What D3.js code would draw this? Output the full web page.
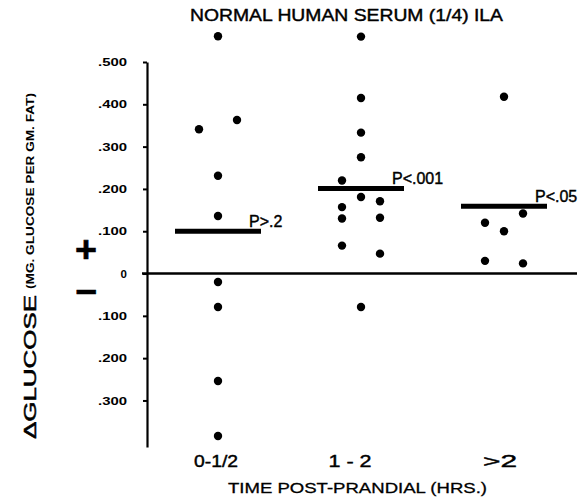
<!DOCTYPE html>
<html>
<head>
<meta charset="utf-8">
<script src="https://cdn.jsdelivr.net/npm/d3@7"></script>
<style>
  body { margin: 0; background: #fff; }
  svg text { font-family: "Liberation Sans", Arial, sans-serif; fill: #000; }
</style>
</head>
<body>
<div id="chart"></div>
<script>
/**
 * DATA
 * */
const groups = ["0-1/2", "1-2", ">2"];

// change in glucose, one list per time group, with the column each dot sits in (-1 left, 0 middle, 1 right)
const earlyValues = [0.561, 0.341, 0.363, 0.231, 0.136, -0.020, -0.079, -0.254, -0.384];
const earlyCols   = [0, -1, 1, 0, 0, 0, 0, 0, 0];
const midValues   = [0.560, 0.415, 0.333, 0.275, 0.220, 0.181, 0.171, 0.157, 0.130, 0.132, 0.066, 0.047, -0.079];
const midCols     = [0, 0, 0, 0, -1, 0, 1, -1, -1, 1, -1, 1, 0];
const lateValues  = [0.418, 0.142, 0.120, 0.100, 0.030, 0.024];
const lateCols    = [0, 1, -1, 0, -1, 1];

const means   = [0.100, 0.201, 0.159];
const pLabels = ["P>.2", "P<.001", "P<.05"];

const yTicks      = [0.5, 0.4, 0.3, 0.2, 0.1, 0, -0.1, -0.2, -0.3];
const yTickLabels = [".500", ".400", ".300", ".200", ".100", "0", ".100", ".200", ".300"];

/**
 * CONSTANTS
 * */
const width = 587, height = 499;
const colStep = 19;      // px between dot columns
const meanHalf = 43;     // half length of mean bars

const svg = d3.select("#chart")
  .append("svg")
  .attr("width", width)
  .attr("height", height);

const y = d3.scaleLinear().domain([-0.41, 0.5]).range([447, 62]);
const x = d3.scalePoint().domain(groups).range([218, 504]);

// build the dot table from the lists
const series = [earlyValues, midValues, lateValues];
const cols = [earlyCols, midCols, lateCols];
const dots = [];
series.forEach((vals, g) => {
  vals.forEach((v, i) => dots.push({ group: groups[g], value: v, col: cols[g][i] }));
});

// y axis
const yAxis = svg.append("g")
  .attr("transform", "translate(147,0)")
  .call(d3.axisLeft(y)
    .tickValues(yTicks)
    .tickSize(4)
    .tickSizeOuter(0)
    .tickPadding(16)
    .tickFormat((d, i) => yTickLabels[i]));

yAxis.select(".domain").attr("stroke", "#000").attr("stroke-width", 2.2);
yAxis.selectAll(".tick line").attr("stroke", "#000").attr("stroke-width", 2);
yAxis.selectAll(".tick text")
  .attr("font-family", "Liberation Sans, Arial, sans-serif")
  .attr("font-size", 11.5)
  .attr("font-weight", "bold")
  .attr("textLength", (d, i) => yTickLabels[i].length > 1 ? 29 : null)
  .attr("lengthAdjust", "spacingAndGlyphs");

// zero line
svg.append("line")
  .attr("x1", 142).attr("x2", 577)
  .attr("y1", y(0)).attr("y2", y(0))
  .attr("stroke", "#000")
  .attr("stroke-width", 2.4);

// dots
svg.selectAll("circle.dot")
  .data(dots)
  .join("circle")
  .attr("class", "dot")
  .attr("cx", d => x(d.group) + d.col * colStep)
  .attr("cy", d => y(d.value))
  .attr("r", 4.2)
  .attr("fill", "#000");

// mean bars
svg.selectAll("line.mean")
  .data(means)
  .join("line")
  .attr("class", "mean")
  .attr("x1", (d, i) => x(groups[i]) - meanHalf)
  .attr("x2", (d, i) => x(groups[i]) + meanHalf)
  .attr("y1", d => y(d))
  .attr("y2", d => y(d))
  .attr("stroke", "#000")
  .attr("stroke-width", 4.8);

// p values
svg.selectAll("text.pval")
  .data(pLabels)
  .join("text")
  .attr("class", "pval")
  .attr("x", (d, i) => x(groups[i]) + meanHalf - 12)
  .attr("y", (d, i) => y(means[i]) - 4.5)
  .attr("font-size", 16)
  .attr("stroke", "#000")
  .attr("stroke-width", 0.4)
  .text(d => d);

// x category labels
const labelNudge = [-2, -11, -4];
svg.selectAll("text.xlab")
  .data(groups)
  .join("text")
  .attr("class", "xlab")
  .attr("x", (d, i) => x(d) + labelNudge[i])
  .attr("y", 467)
  .attr("text-anchor", "middle")
  .attr("font-size", 16)
  .attr("stroke", "#000")
  .attr("stroke-width", 0.4)
  .attr("textLength", (d, i) => [44, 43, 34][i])
  .attr("lengthAdjust", "spacingAndGlyphs")
  .text(d => d === "1-2" ? "1 - 2" : d);

// titles
svg.append("text")
  .attr("x", 190).attr("y", 21)
  .attr("font-size", 16.5)
  .attr("stroke", "#000")
  .attr("stroke-width", 0.4)
  .attr("textLength", 313)
  .attr("lengthAdjust", "spacingAndGlyphs")
  .text("NORMAL  HUMAN  SERUM (1/4)  ILA");

svg.append("text")
  .attr("x", 228).attr("y", 493)
  .attr("font-size", 15)
  .attr("stroke", "#000")
  .attr("stroke-width", 0.3)
  .attr("textLength", 259)
  .attr("lengthAdjust", "spacingAndGlyphs")
  .text("TIME POST-PRANDIAL (HRS.)");

svg.append("text")
  .attr("transform", "translate(36,439) rotate(-90)")
  .attr("font-size", 16)
  .attr("stroke", "#000")
  .attr("stroke-width", 0.5)
  .attr("textLength", 144)
  .attr("lengthAdjust", "spacingAndGlyphs")
  .text("ΔGLUCOSE");

svg.append("text")
  .attr("transform", "translate(34,289) rotate(-90)")
  .attr("font-size", 11)
  .attr("font-weight", "bold")
  .attr("textLength", 196)
  .attr("lengthAdjust", "spacingAndGlyphs")
  .text("(MG. GLUCOSE PER GM. FAT)");

// plus / minus signs
svg.append("text")
  .attr("x", 86).attr("y", 262)
  .attr("text-anchor", "middle")
  .attr("font-size", 36)
  .attr("font-weight", "bold")
  .attr("stroke", "#000")
  .attr("stroke-width", 0.6)
  .attr("textLength", 22)
  .attr("lengthAdjust", "spacingAndGlyphs")
  .text("+");

svg.append("text")
  .attr("x", 86).attr("y", 303.5)
  .attr("text-anchor", "middle")
  .attr("font-size", 36)
  .attr("font-weight", "bold")
  .attr("stroke", "#000")
  .attr("stroke-width", 0.6)
  .attr("textLength", 22)
  .attr("lengthAdjust", "spacingAndGlyphs")
  .text("−");
</script>
</body>
</html>
